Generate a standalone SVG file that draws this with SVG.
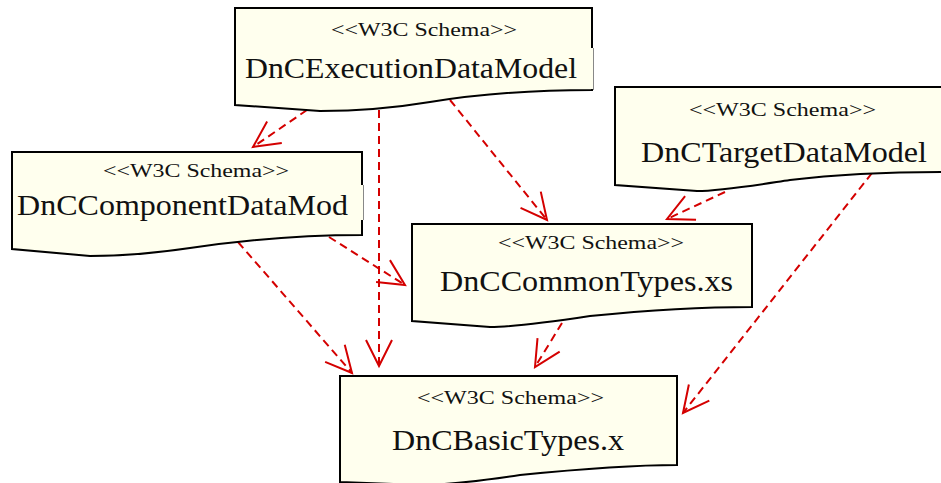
<svg xmlns="http://www.w3.org/2000/svg" width="941" height="483" viewBox="0 0 941 483">
  <style>
    .doc { fill: #ffffee; stroke: #000; stroke-width: 2; stroke-linejoin: miter; }
    .cover { fill: #ffffee; stroke: none; }
    .edge { stroke: #888; stroke-width: 1; fill: none; }
    .stereo { font-family: "Liberation Serif", "Times New Roman", serif; font-size: 19px; fill: #111; }
    .title { font-family: "Liberation Serif", "Times New Roman", serif; font-size: 30px; fill: #111; }
    .dep { stroke: #d40000; stroke-width: 2; stroke-dasharray: 8 5; fill: none; marker-end: url(#open); }
  </style>
  <defs>
    <marker id="open" markerUnits="userSpaceOnUse" viewBox="-30 -16 34 32" markerWidth="34" markerHeight="32" refX="0" refY="0" orient="auto" overflow="visible">
      <path d="M-26,-13 L0,0 L-26,13" fill="none" stroke="#d40000" stroke-width="2"/>
    </marker>
  </defs>
  <rect width="941" height="483" fill="#fff"/>

  <!-- dependency connectors -->
  <g id="connectors">
    <line class="dep" x1="307" y1="110" x2="253" y2="147"/>
    <line class="dep" x1="379" y1="110" x2="379" y2="366"/>
    <line class="dep" x1="450" y1="100" x2="547" y2="220"/>
    <line class="dep" x1="238" y1="242" x2="352" y2="373"/>
    <line class="dep" x1="329" y1="237" x2="405" y2="285"/>
    <line class="dep" x1="725" y1="192" x2="667" y2="219"/>
    <line class="dep" x1="872" y1="173" x2="683" y2="413"/>
    <line class="dep" x1="562" y1="323" x2="535" y2="367"/>
  </g>

  <g id="DnCExecutionDataModel">
    <path class="doc" d="M235,8 H592 V90 C540,90 480,94 430,102 C400,107 360,111 320,111 L235,105 Z"/>
    <rect class="cover" x="570" y="48" width="24" height="41"/>
    <line class="edge" x1="593.5" y1="48" x2="593.5" y2="90"/>
    <text class="stereo" x="331" y="36" textLength="186" lengthAdjust="spacingAndGlyphs">&lt;&lt;W3C Schema&gt;&gt;</text>
    <text class="title" x="245" y="78" textLength="332" lengthAdjust="spacingAndGlyphs">DnCExecutionDataModel</text>
  </g>

  <g id="DnCComponentDataMod">
    <path class="doc" d="M12,152 H362 V235 C310,235 250,239 190,248 C150,254 110,256 90,256 L12,249 Z"/>
    <rect class="cover" x="350" y="185" width="14" height="35"/>
    <line class="edge" x1="363.5" y1="185" x2="363.5" y2="220"/>
    <text class="stereo" x="103" y="177" textLength="186" lengthAdjust="spacingAndGlyphs">&lt;&lt;W3C Schema&gt;&gt;</text>
    <text class="title" x="17" y="215" textLength="331" lengthAdjust="spacingAndGlyphs">DnCComponentDataMod</text>
  </g>

  <g id="DnCTargetDataModel">
    <path class="doc" d="M615,87 H945 V172 C890,172 840,174 790,180 C750,186 720,191 697,191 L615,185 Z"/>
    <text class="stereo" x="689" y="116" textLength="187" lengthAdjust="spacingAndGlyphs">&lt;&lt;W3C Schema&gt;&gt;</text>
    <text class="title" x="641" y="162" textLength="286" lengthAdjust="spacingAndGlyphs">DnCTargetDataModel</text>
  </g>

  <g id="DnCCommonTypes">
    <path class="doc" d="M412,224 H752 V307 C700,307 640,311 590,316 C550,322 515,327 490,327 L412,321 Z"/>
    <text class="stereo" x="498" y="249" textLength="186" lengthAdjust="spacingAndGlyphs">&lt;&lt;W3C Schema&gt;&gt;</text>
    <text class="title" x="440" y="291" textLength="293" lengthAdjust="spacingAndGlyphs">DnCCommonTypes.xs</text>
  </g>

  <g id="DnCBasicTypes">
    <path class="doc" d="M340,376 H677 V465 C630,465 570,470 520,475 C480,481 445,485 420,485 L340,482 Z"/>
    <text class="stereo" x="417" y="404" textLength="187" lengthAdjust="spacingAndGlyphs">&lt;&lt;W3C Schema&gt;&gt;</text>
    <text class="title" x="392" y="450" textLength="232" lengthAdjust="spacingAndGlyphs">DnCBasicTypes.x</text>
  </g>
</svg>
